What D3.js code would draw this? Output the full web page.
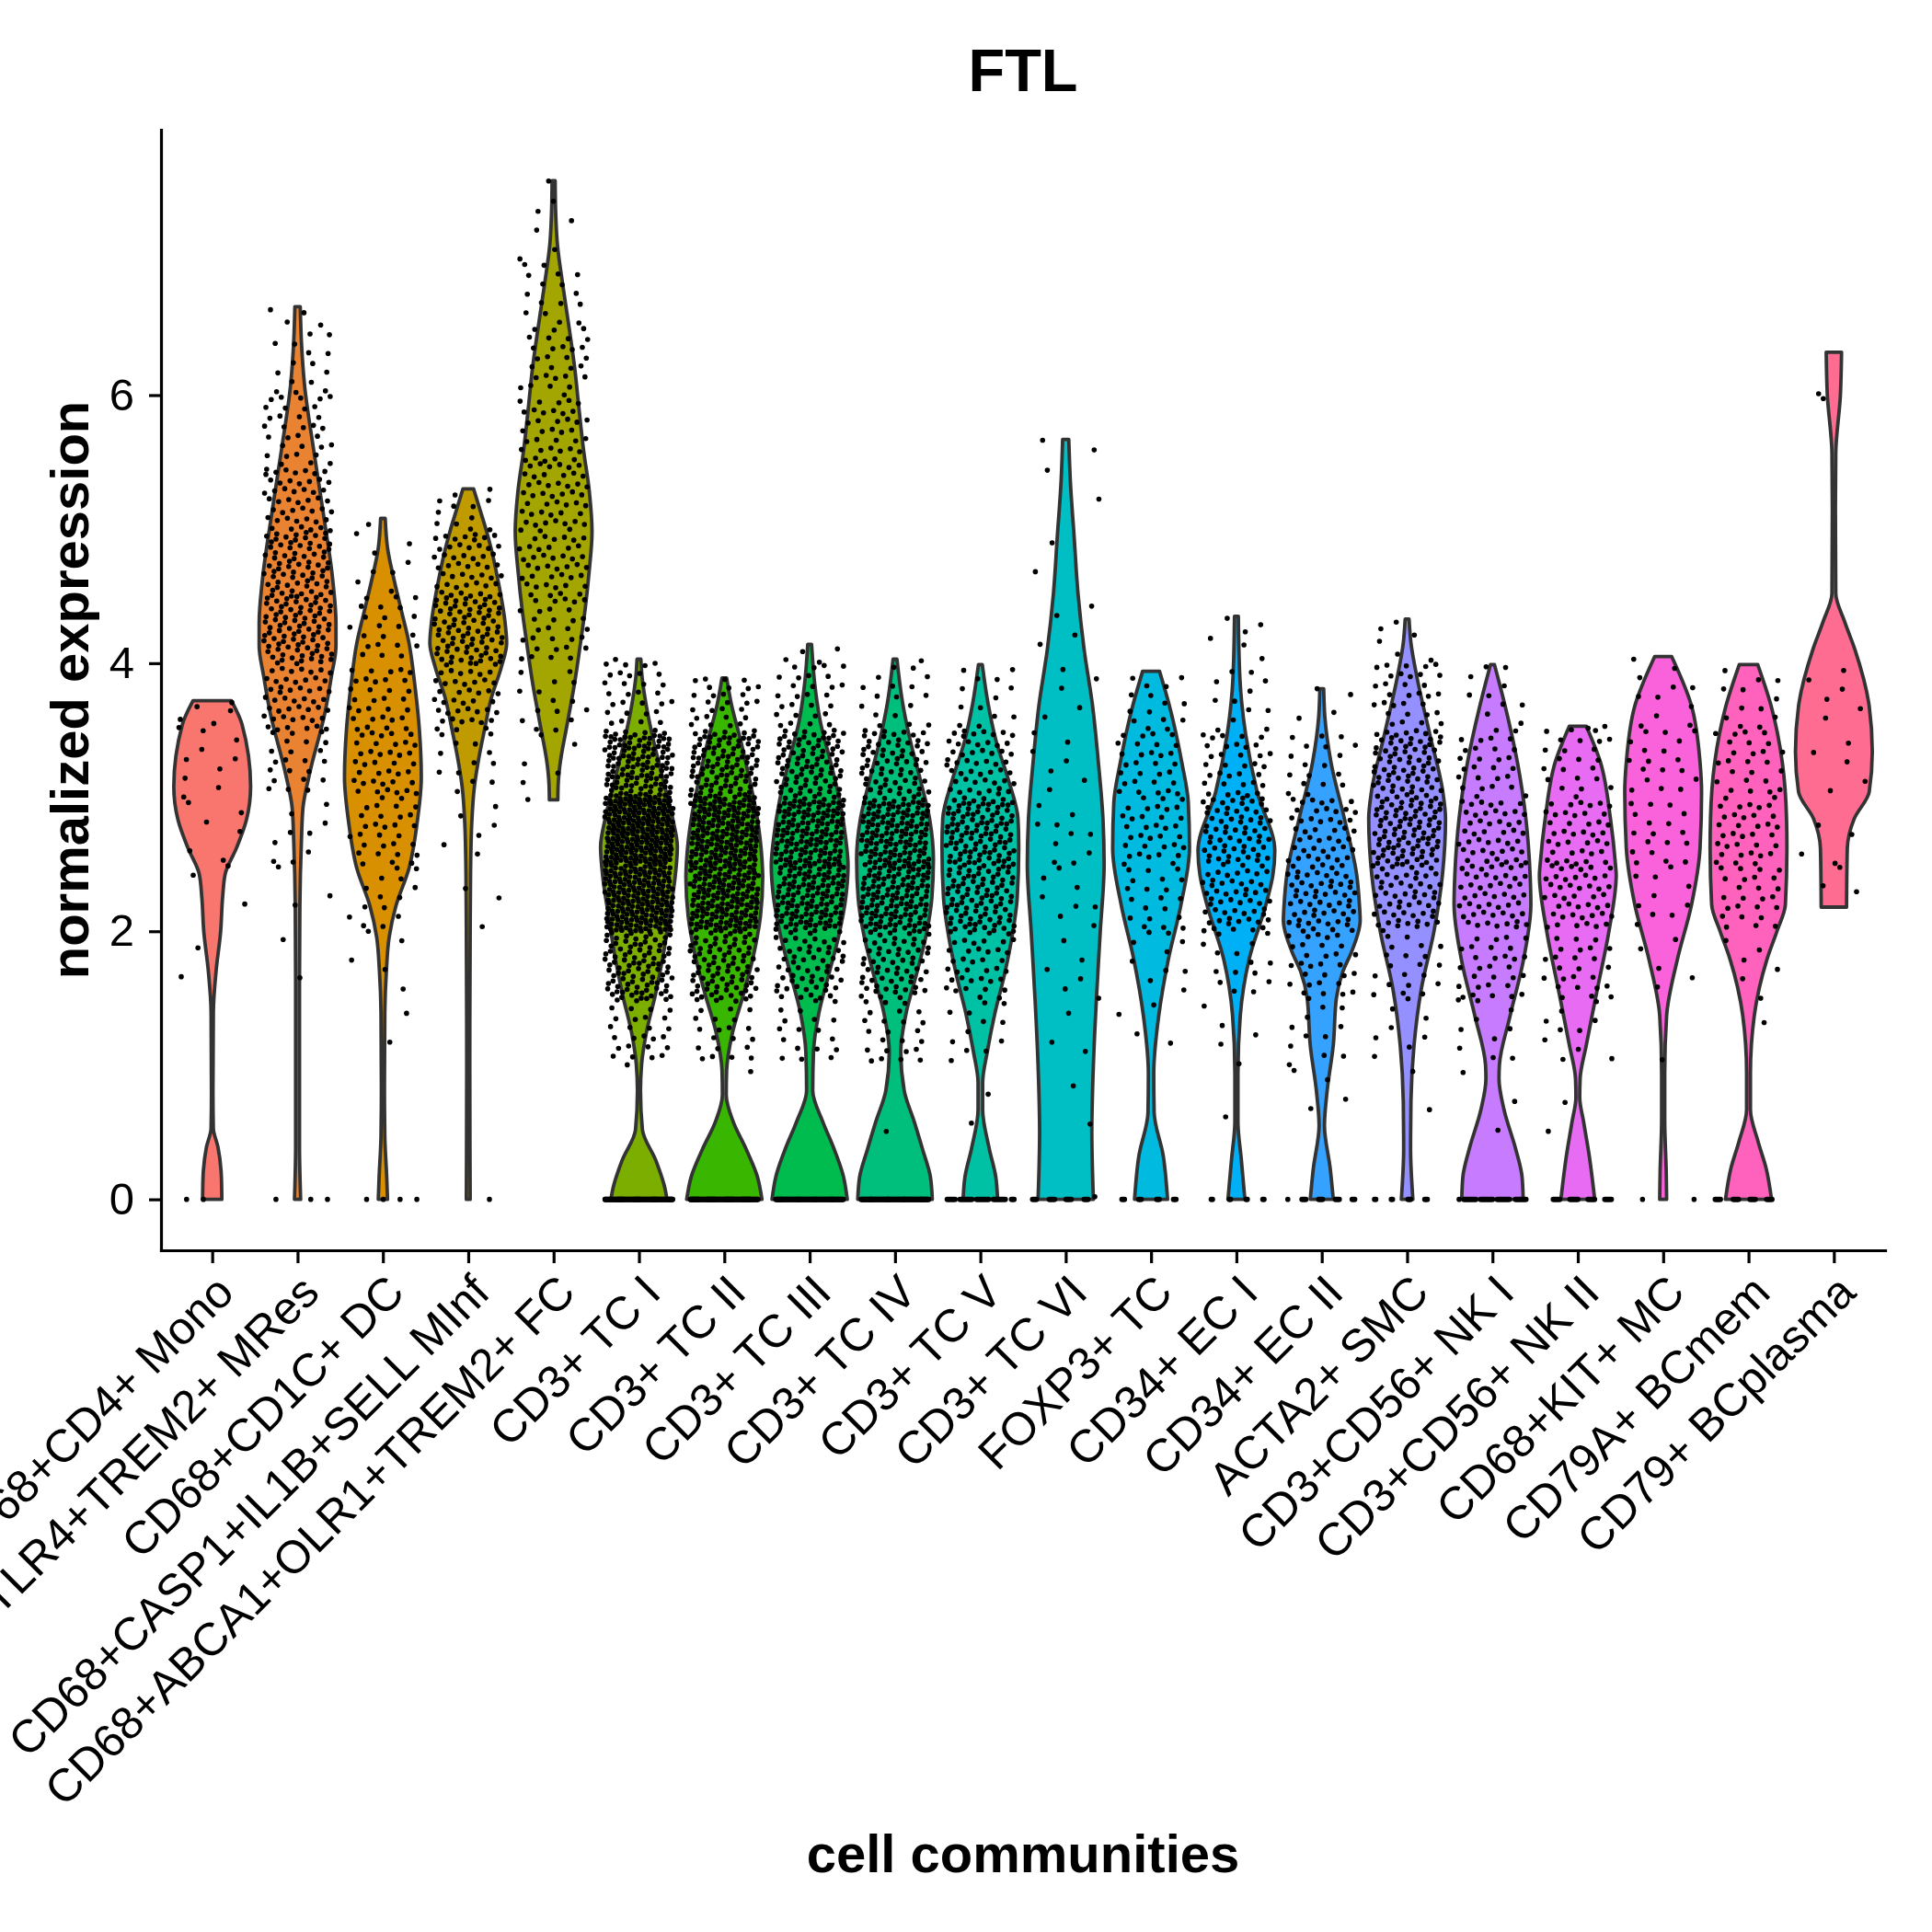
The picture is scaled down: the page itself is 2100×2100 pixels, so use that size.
<!DOCTYPE html>
<html><head><meta charset="utf-8">
<script src="https://cdn.jsdelivr.net/npm/d3@7"></script>
<style>html,body{margin:0;padding:0;background:#fff}</style>
</head><body><svg id="chart" width="2100" height="2100"></svg>
<script>
// ---------------- DATA ----------------
const chartTitle = "FTL";
const xTitle = "cell communities";
const yTitle = "normalized expression";
const categories = ["CD68+CD4+ Mono","CD68+TLR4+TREM2+ MRes","CD68+CD1C+ DC","CD68+CASP1+IL1B+SELL MInf",
  "CD68+ABCA1+OLR1+TREM2+ FC","CD3+ TC I","CD3+ TC II","CD3+ TC III","CD3+ TC IV","CD3+ TC V","CD3+ TC VI",
  "FOXP3+ TC","CD34+ EC I","CD34+ EC II","ACTA2+ SMC","CD3+CD56+ NK I","CD3+CD56+ NK II","CD68+KIT+ MC",
  "CD79A+ BCmem","CD79+ BCplasma"];
const fillColors = ["#F8766D","#EA8331","#D89000","#C09B00","#A3A500","#7CAE00","#39B600","#00BB4E","#00BF7D","#00C1A3",
  "#00BFC4","#00BAE0","#00B0F6","#35A2FF","#9590FF","#C77CFF","#E76BF3","#FA62DB","#FF62BC","#FF6C91"];
const yTickValues = [0, 2, 4, 6];

// violin outlines: [expression value, relative half-width (1 = widest)]
const shapeMono = [[0,0.25],[0.16,0.24],[0.39,0.15],[0.53,0.03],[0.8,0.02],[1.4,0.03],[1.7,0.1],[2.0,0.22],[2.25,0.27],[2.43,0.34],[2.62,0.63],[2.83,0.89],[3.08,1.0],[3.54,0.78],[3.72,0.5]];
const shapeMRes = [[0,0.08],[0.4,0.05],[1.0,0.05],[1.6,0.05],[2.19,0.06],[2.67,0.1],[2.92,0.14],[3.16,0.3],[3.64,0.72],[3.9,0.88],[4.13,1.0],[4.3,1.0],[4.61,0.92],[5.1,0.68],[5.59,0.42],[6.08,0.18],[6.4,0.1],[6.66,0.07]];
const shapeDC = [[0,0.12],[0.16,0.1],[0.47,0.05],[0.8,0.04],[1.39,0.05],[1.7,0.09],[1.95,0.16],[2.19,0.34],[2.47,0.68],[2.83,0.9],[3.15,1.0],[3.5,0.95],[3.84,0.83],[4.15,0.68],[4.37,0.5],[4.61,0.3],[4.86,0.12],[5.08,0.06]];
const shapeMInf = [[0,0.05],[1.0,0.04],[2.0,0.05],[2.43,0.06],[2.8,0.09],[3.08,0.16],[3.3,0.28],[3.5,0.42],[3.74,0.6],[3.97,0.86],[4.15,1.0],[4.3,0.96],[4.61,0.78],[4.85,0.6],[5.0,0.46],[5.15,0.3],[5.3,0.14]];
const shapeFC = [[2.98,0.11],[3.1,0.12],[3.23,0.16],[3.54,0.35],[3.84,0.54],[4.15,0.7],[4.4,0.82],[4.67,0.92],[4.98,1.0],[5.28,0.93],[5.59,0.78],[5.9,0.66],[6.2,0.55],[6.51,0.4],[6.82,0.24],[7.12,0.1],[7.4,0.05],[7.6,0.04]];
const shapeTC1 = [[0,0.73],[0.09,0.67],[0.29,0.44],[0.52,0.09],[0.81,0.04],[1.01,0.07],[1.24,0.19],[1.53,0.43],[1.82,0.63],[2.11,0.79],[2.4,0.94],[2.63,1.0],[2.84,0.88],[3.13,0.63],[3.42,0.38],[3.7,0.18],[3.9,0.08],[4.03,0.05]];
const shapeTC2 = [[0,0.98],[0.17,0.86],[0.38,0.56],[0.58,0.23],[0.78,0.05],[0.96,0.06],[1.24,0.21],[1.53,0.5],[1.82,0.76],[2.11,0.94],[2.4,1.0],[2.54,0.98],[2.84,0.86],[3.13,0.66],[3.42,0.43],[3.7,0.18],[3.89,0.06]];
const shapeTC3 = [[0,0.98],[0.17,0.88],[0.38,0.63],[0.58,0.34],[0.81,0.08],[1.1,0.1],[1.39,0.24],[1.68,0.5],[1.97,0.76],[2.25,0.94],[2.49,1.0],[2.69,0.94],[2.98,0.78],[3.27,0.54],[3.56,0.28],[3.85,0.13],[4.14,0.05]];
const shapeTC4 = [[0,0.97],[0.17,0.92],[0.38,0.71],[0.58,0.5],[0.81,0.24],[1.1,0.15],[1.39,0.29],[1.68,0.56],[1.97,0.81],[2.25,0.96],[2.54,1.0],[2.84,0.9],[3.13,0.66],[3.42,0.4],[3.7,0.2],[4.03,0.05]];
const shapeTC5 = [[0,0.45],[0.17,0.4],[0.38,0.23],[0.67,0.06],[0.87,0.06],[1.1,0.18],[1.39,0.38],[1.68,0.63],[1.97,0.83],[2.25,0.96],[2.63,1.0],[2.84,0.98],[3.13,0.73],[3.42,0.41],[3.7,0.2],[3.99,0.05]];
const shapeTC6 = [[0,0.72],[0.5,0.68],[1.0,0.72],[1.5,0.8],[2.0,0.9],[2.5,1.0],[2.84,0.97],[3.26,0.85],[3.68,0.7],[4.1,0.48],[4.52,0.32],[4.94,0.22],[5.36,0.12],[5.67,0.08]];
const shapeFOXP3 = [[0,0.43],[0.32,0.32],[0.65,0.08],[0.94,0.07],[1.37,0.2],[1.79,0.45],[2.2,0.78],[2.62,1.0],[2.96,0.97],[3.26,0.8],[3.68,0.48],[3.94,0.22]];
const shapeEC1 = [[0,0.22],[0.29,0.13],[0.58,0.04],[0.94,0.04],[1.37,0.1],[1.79,0.33],[2.2,0.77],[2.42,0.95],[2.6,1.0],[3.04,0.54],[3.47,0.24],[3.89,0.09],[4.35,0.05]];
const shapeEC2 = [[0,0.3],[0.23,0.22],[0.55,0.07],[0.81,0.14],[1.15,0.3],[1.5,0.38],[1.7,0.55],[1.85,0.78],[2.08,1.0],[2.2,0.98],[2.42,0.91],[2.84,0.59],[3.26,0.24],[3.6,0.08],[3.81,0.05]];
const shapeSMC = [[0,0.15],[0.38,0.09],[0.73,0.1],[1.15,0.18],[1.57,0.37],[2.0,0.7],[2.42,0.92],[2.84,1.0],[3.04,0.93],[3.47,0.59],[3.89,0.26],[4.15,0.1],[4.33,0.05]];
const shapeNK1 = [[0,0.8],[0.17,0.77],[0.38,0.6],[0.67,0.3],[0.9,0.17],[1.0,0.18],[1.37,0.46],[1.79,0.81],[2.2,1.0],[2.42,0.98],[2.84,0.87],[3.26,0.65],[3.68,0.33],[3.99,0.05]];
const shapeNK2 = [[0,0.44],[0.32,0.3],[0.58,0.15],[0.76,0.05],[0.9,0.06],[1.15,0.22],[1.57,0.51],[2.0,0.81],[2.42,1.0],[2.5,0.98],[2.84,0.85],[3.26,0.59],[3.53,0.22]];
const shapeMC = [[0,0.09],[0.2,0.08],[0.6,0.04],[0.94,0.04],[1.37,0.09],[1.79,0.37],[2.2,0.74],[2.62,0.96],[3.04,1.0],[3.26,0.96],[3.68,0.74],[4.05,0.22]];
const shapeBCmem = [[0,0.6],[0.23,0.46],[0.43,0.25],[0.67,0.05],[0.94,0.05],[1.37,0.15],[1.79,0.48],[2.0,0.74],[2.2,0.96],[2.62,1.0],[2.84,0.99],[3.26,0.88],[3.68,0.59],[3.99,0.24]];
const shapeBCplasma = [[2.18,0.33],[2.62,0.35],[2.84,0.53],[3.04,0.92],[3.34,1.0],[3.68,0.92],[4.1,0.55],[4.31,0.28],[4.52,0.05],[5.15,0.04],[5.57,0.05],[6.0,0.17],[6.32,0.2]];

// cells with expression exactly 0, per community
const zeroCells = [2,3,4,1,0,120,130,110,110,40,18,12,8,16,10,40,25,2,20,0];
// cells per 0.5-wide expression bin (0-0.5, 0.5-1, ...), per community
const cellsMono = [0,0,0,2,3,6,9,6];
const cellsMRes = [0,0,0,2,3,9,22,50,85,75,50,30,15,4];
const cellsDC = [0,0,2,5,14,30,38,32,22,8,1];
const cellsMInf = [0,0,0,0,3,6,13,44,82,50,11];
const cellsFC = [0,0,0,0,0,1,5,15,30,45,45,38,30,16,6,1];
const cellsTC1 = [0,0,30,95,200,235,130,30,1];
const cellsTC2 = [0,1,24,84,165,175,105,28];
const cellsTC3 = [0,0,18,60,130,140,88,28,4];
const cellsTC4 = [0,1,24,65,128,135,70,17,1];
const cellsTC5 = [0,2,12,40,92,104,52,13];
const cellsTC6 = [1,2,3,6,8,10,7,5,4,2,2,2];
const cellsFOXP3 = [0,0,4,10,20,35,30,15];
const cellsEC1 = [0,1,5,15,55,65,35,12,6];
const cellsEC2 = [0,4,12,30,60,45,18,4];
const cellsSMC = [0,2,8,20,58,90,75,32,6];
const cellsNK1 = [0,3,10,30,50,45,28,10];
const cellsNK2 = [0,2,10,25,45,40,22,3];
const cellsMC = [0,0,1,5,10,18,18,10,1];
const cellsBCmem = [0,0,1,6,25,35,25,12];
const cellsBCplasma = [0,0,0,0,3,4,5,6,0,0,0,1,1];
const binWidth = 0.5;

const shapes = [shapeMono,shapeMRes,shapeDC,shapeMInf,shapeFC,shapeTC1,shapeTC2,shapeTC3,shapeTC4,shapeTC5,shapeTC6,
  shapeFOXP3,shapeEC1,shapeEC2,shapeSMC,shapeNK1,shapeNK2,shapeMC,shapeBCmem,shapeBCplasma];
const cellBins = [cellsMono,cellsMRes,cellsDC,cellsMInf,cellsFC,cellsTC1,cellsTC2,cellsTC3,cellsTC4,cellsTC5,cellsTC6,
  cellsFOXP3,cellsEC1,cellsEC2,cellsSMC,cellsNK1,cellsNK2,cellsMC,cellsBCmem,cellsBCplasma];

// ---------------- DRAW ----------------
const W = 2100, H = 2100;
const panel = {left: 175, right: 2049, top: 141, bottom: 1359};
const FONT = "'Liberation Sans', Arial, Helvetica, sans-serif";
const svg = d3.select("#chart");
svg.append("rect").attr("width", W).attr("height", H).attr("fill", "#fff");

const x = d3.scalePoint().domain(categories).range([panel.left, panel.right]).padding(0.6);
const y = d3.scaleLinear().domain([-0.38, 7.98]).range([panel.bottom, panel.top]);
const step = x.step();
const halfW = d3.scaleLinear().domain([0, 1]).range([0, 0.45 * step]);
const jitterX = d3.scaleLinear().domain([0, 1]).range([-0.4 * step, 0.4 * step]);

const area = d3.area().curve(d3.curveMonotoneY)
  .y(d => y(d[0]))
  .x0(d => -halfW(d[1]))
  .x1(d => halfW(d[1]));

const plot = svg.append("g");
categories.forEach((c, ci) => {
  plot.append("path")
    .attr("transform", `translate(${x(c)},0)`)
    .attr("d", area(shapes[ci]))
    .attr("fill", fillColors[ci])
    .attr("stroke", "#333333")
    .attr("stroke-width", 3.8)
    .attr("stroke-linejoin", "round");
});

// jittered cells (deterministic quasi-uniform layout within each bin)
const a1 = 0.7548776662466927, a2 = 0.5698402909980532;
const frac = v => v - Math.floor(v);
const pts = [];
categories.forEach((c, ci) => {
  const sh = shapes[ci];
  const lo = sh[0][0], hi = sh[sh.length - 1][0];
  for (let k = 0; k < zeroCells[ci]; k++) {
    pts.push({c, u: frac(0.37 + (k + ci * 13) * a1), v: 0});
  }
  cellBins[ci].forEach((n, b) => {
    const s0 = Math.max(lo, b * binWidth), s1 = Math.min(hi, (b + 1) * binWidth);
    if (s1 <= s0) return;
    for (let k = 0; k < n; k++) {
      const s = k + b * 37 + ci * 101;
      pts.push({c, u: frac(0.5 + s * a1), v: s0 + frac(0.5 + s * a2) * (s1 - s0)});
    }
  });
});
plot.append("g").selectAll("circle").data(pts).join("circle")
  .attr("cx", d => x(d.c) + jitterX(d.u))
  .attr("cy", d => y(d.v))
  .attr("r", 2.8)
  .attr("fill", "#000");

// axes
const yAxis = d3.axisLeft(y).tickValues(yTickValues).tickFormat(d3.format("d")).tickSize(13).tickSizeOuter(0).tickPadding(16);
const gy = svg.append("g").attr("transform", `translate(${panel.left},0)`).call(yAxis);
gy.select(".domain").attr("stroke", "#000").attr("stroke-width", 3.2).attr("stroke-linecap", "square");
gy.selectAll(".tick line").attr("stroke", "#000").attr("stroke-width", 3.2);
gy.selectAll(".tick text").attr("font-family", FONT).attr("font-size", 49).attr("fill", "#000");

const xAxis = d3.axisBottom(x).tickSize(14).tickSizeOuter(0).tickPadding(0);
const gx = svg.append("g").attr("transform", `translate(0,${panel.bottom})`).call(xAxis);
gx.select(".domain").attr("stroke", "#000").attr("stroke-width", 3.2).attr("stroke-linecap", "square");
gx.selectAll(".tick line").attr("stroke", "#000").attr("stroke-width", 3.2);
gx.selectAll(".tick text")
  .attr("font-family", FONT).attr("font-size", 50).attr("fill", "#000")
  .attr("x", 0).attr("y", 0).attr("dy", "0.72em")
  .attr("text-anchor", "end")
  .attr("transform", "translate(0,23) rotate(-45)");

// titles
svg.append("text").attr("x", (panel.left + panel.right) / 2).attr("y", 99)
  .attr("text-anchor", "middle").attr("font-family", FONT).attr("font-weight", "bold")
  .attr("font-size", 65).attr("fill", "#000").text(chartTitle);
svg.append("text").attr("x", (panel.left + panel.right) / 2).attr("y", 2035)
  .attr("text-anchor", "middle").attr("font-family", FONT).attr("font-weight", "bold")
  .attr("font-size", 58).attr("fill", "#000").text(xTitle);
svg.append("text").attr("transform", `translate(96,${(panel.top + panel.bottom) / 2}) rotate(-90)`)
  .attr("text-anchor", "middle").attr("font-family", FONT).attr("font-weight", "bold")
  .attr("font-size", 58).attr("fill", "#000").text(yTitle);
</script>
</body></html>
